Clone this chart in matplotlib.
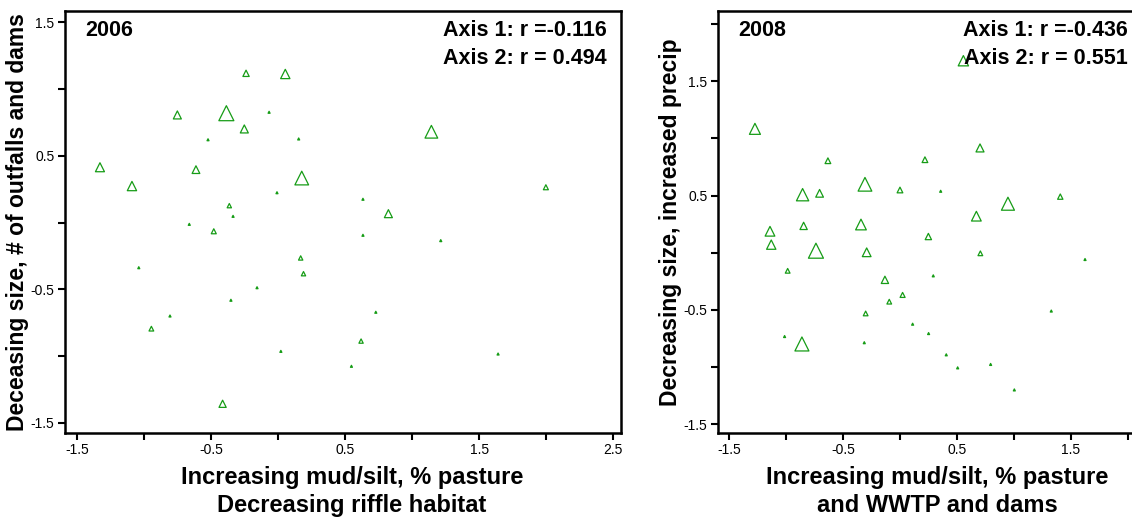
import numpy as np
import matplotlib.pyplot as plt

plt.rcParams['font.family'] = ['Liberation Sans', 'DejaVu Sans']
plt.rcParams['axes.unicode_minus'] = False

# 2006 site scores (axis 1, axis 2) and relative symbol size
x_2006 = [-0.241, 0.052, -0.069, -0.388, -0.754, -0.254, -0.525, 0.152, -1.332, -0.615,
          0.175, -1.093, -0.010, -0.366, -0.338, -0.665, -0.482, 1.143, 1.998, 0.632,
          0.822, 0.632, 1.213, -1.042, -0.948, -0.809, -0.354, -0.159, 0.019, 0.167,
          0.188, 0.546, 0.618, 0.728, 1.641, -0.416]
y_2006 = [1.119, 1.114, 0.827, 0.820, 0.807, 0.702, 0.621, 0.627, 0.415, 0.397,
          0.334, 0.274, 0.224, 0.127, 0.047, -0.013, -0.065, 0.681, 0.265, 0.175,
          0.067, -0.095, -0.135, -0.338, -0.795, -0.700, -0.582, -0.488, -0.965, -0.265,
          -0.383, -1.077, -0.888, -0.672, -0.985, -1.358]
size_2006 = [6.3, 9.3, 2, 15, 8, 8, 2, 2, 9, 7.7,
             13.7, 9.3, 2, 4.3, 2, 2, 5, 12.7, 5, 2,
             8, 2, 2, 2, 4.7, 2, 2, 2, 2, 4.3,
             4.3, 2, 4.3, 2, 2, 7.2]

# 2008 site scores
x_2008 = [-1.272, -0.632, 0.219, -0.307, -0.854, -0.705, 0.000, -1.140, -0.845, -0.342,
          -1.129, -0.737, -0.292, -0.985, -0.132, 0.023, -0.094, -0.301, 0.111, -1.012,
          -0.860, -0.313, 0.556, 0.702, 0.357, 1.406, 0.947, 0.670, 0.249, 0.705,
          1.623, 0.292, 1.327, 0.251, 0.406, 0.506, 0.795, 1.003]
y_2008 = [1.084, 0.805, 0.814, 0.599, 0.508, 0.520, 0.549, 0.188, 0.235, 0.247,
          0.071, 0.018, 0.004, -0.158, -0.237, -0.369, -0.428, -0.531, -0.625, -0.733,
          -0.798, -0.787, 1.680, 0.917, 0.538, 0.491, 0.429, 0.320, 0.142, -0.005,
          -0.059, -0.202, -0.510, -0.707, -0.893, -1.007, -0.977, -1.200]
size_2008 = [11, 5.7, 5.7, 13.7, 12.3, 7.7, 5.7, 9.7, 7.3, 10.7,
             9.3, 15, 8.7, 4.7, 7.3, 5, 4.7, 4.7, 2, 2,
             14, 2, 10.3, 8, 2, 5.3, 13, 9.7, 6.3, 4.7,
             2, 2, 2, 2, 2, 2, 2, 2]

panels = [
    dict(x=x_2006, y=y_2006, s=size_2006, year='2006', r1='-0.116', r2='0.494',
         ylabel='Deceasing size, # of outfalls and dams',
         xlabel='Increasing mud/silt, % pasture\nDecreasing riffle habitat',
         xlim=(-1.593, 2.559), ylim=(-1.577, 1.586),
         xticks=np.arange(-1.5, 2.51, 0.5), yticks=np.arange(-1.5, 1.51, 0.5)),
    dict(x=x_2008, y=y_2008, s=size_2008, year='2008', r1='-0.436', r2='0.551',
         ylabel='Decreasing size, increased precip',
         xlabel='Increasing mud/silt, % pasture\nand WWTP and dams',
         xlim=(-1.596, 2.035), ylim=(-1.577, 2.115),
         xticks=np.arange(-1.5, 2.01, 0.5), yticks=np.arange(-1.5, 2.01, 0.5)),
]

W, H = 1132, 519
fig = plt.figure(figsize=(W / 100, H / 100), dpi=100)
boxes = [(65, 11, 621, 433), (718, 11, 1132, 433)]
ylab_x = [18, 671]
xlab_x = [352, 937]
text_right = [607, 1128]
green = '#169c16'

for p, (l, t, r, b), yl, xl, tr in zip(panels, boxes, ylab_x, xlab_x, text_right):
    ax = fig.add_axes([l / W, 1 - b / H, (r - l) / W, (b - t) / H])
    ms = np.array(p['s']) * 0.72
    ax.scatter(p['x'], p['y'], s=ms ** 2, marker='^', facecolors='none',
               edgecolors=green, linewidths=0.9, zorder=3)
    ax.set_xlim(*p['xlim'])
    ax.set_ylim(*p['ylim'])
    ax.set_xticks(p['xticks'])
    ax.set_yticks(p['yticks'])
    ax.set_xticklabels([f'{v:.1f}' if abs(v * 2) % 2 == 1 else '' for v in p['xticks']])
    ax.set_yticklabels([f'{v:.1f}' if abs(v * 2) % 2 == 1 else '' for v in p['yticks']])
    ax.tick_params(direction='out', length=5, width=1.5, labelsize=10, pad=2.5)
    for sp in ax.spines.values():
        sp.set_linewidth(1.8)
    if r >= W:
        ax.spines['right'].set_visible(False)

    # year tag and correlation text inside the plot
    ax.text(20 / (r - l), (b - 30) / (b - t), p['year'], transform=ax.transAxes,
            fontsize=15.5, fontweight='bold', ha='left', va='center')
    rx = (tr - l) / (r - l)
    ax.text(rx, (b - 31) / (b - t), 'Axis 1: r =' + p['r1'], transform=ax.transAxes,
            fontsize=15.5, fontweight='bold', ha='right', va='center')
    ax.text(rx, (b - 58) / (b - t), 'Axis 2: r = ' + p['r2'], transform=ax.transAxes,
            fontsize=15.5, fontweight='bold', ha='right', va='center')

    ax.set_ylabel(p['ylabel'], fontsize=16.5, fontweight='bold')
    ax.yaxis.set_label_coords((yl - l) / (r - l), 0.5)
    ax.yaxis.label.set_va('center')
    ax.set_xlabel(p['xlabel'], fontsize=17, fontweight='bold', linespacing=1.3)
    ax.xaxis.set_label_coords((xl - l) / (r - l), (b - 466) / (b - t))
    ax.xaxis.label.set_va('top')

fig.savefig('out.png', dpi=100)
